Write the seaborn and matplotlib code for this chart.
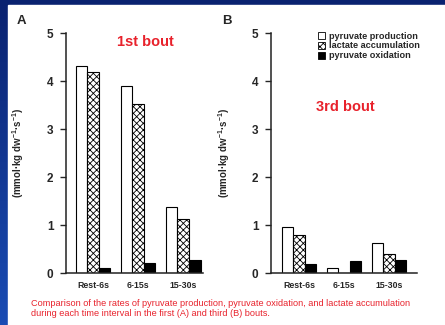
import numpy as np
import pandas as pd
import matplotlib
matplotlib.use("Agg")
import matplotlib.pyplot as plt
import seaborn as sns
from matplotlib.patches import Patch, Rectangle

# Values (mmol/kg dw/s)
intervals = ["Rest-6s", "6-15s", "15-30s"]
measures = ["pyruvate production", "lactate accumulation", "pyruvate oxidation"]
bout1_production = [4.32, 3.90, 1.37]
bout1_lactate = [4.18, 3.52, 1.12]
bout1_oxidation = [0.10, 0.20, 0.28]
bout3_production = [0.95, 0.10, 0.63]
bout3_lactate = [0.80, 0.00, 0.40]
bout3_oxidation = [0.18, 0.25, 0.27]
y_ticks = [0, 1, 2, 3, 4, 5]

sns.set_style("ticks")
plt.rcParams["font.family"] = ["Liberation Sans", "DejaVu Sans"]
plt.rcParams["mathtext.fontset"] = "custom"
plt.rcParams["mathtext.rm"] = "Liberation Sans:bold"
plt.rcParams["mathtext.bf"] = "Liberation Sans:bold"
plt.rcParams["mathtext.default"] = "bf"
plt.rcParams["hatch.linewidth"] = 0.6


def long_table(prod, lact, oxid):
    rows = []
    for vals, m in zip([prod, lact, oxid], measures):
        for iv, v in zip(intervals, vals):
            rows.append({"interval": iv, "measure": m, "rate": v})
    return pd.DataFrame(rows)


df1 = long_table(bout1_production, bout1_lactate, bout1_oxidation)
df3 = long_table(bout3_production, bout3_lactate, bout3_oxidation)

fig = plt.figure(figsize=(4.45, 3.25), dpi=100)

# blue slide background with white panel
bg = fig.add_axes([0, 0, 1, 1], zorder=-10)
grad = np.linspace(0, 1, 100).reshape(-1, 1)
slide = matplotlib.colors.LinearSegmentedColormap.from_list(
    "slide", ["#0a2270", "#1a4cb4"])
bg.imshow(grad, cmap=slide, aspect="auto", extent=[0, 1, 1, 0],
          origin="upper")
bg.add_patch(Rectangle((8 / 445, 5 / 325), 1, 1, color="white"))
bg.set_xlim(0, 1)
bg.set_ylim(1, 0)
bg.axis("off")

styles = [("white", None), ("white", "xxxxx"), ("black", None)]

ax_a = fig.add_axes([66 / 445, 52 / 325, 137 / 445, 240 / 325])
ax_b = fig.add_axes([271 / 445, 52 / 325, 146 / 445, 240 / 325])

for ax, df, xlim, lab_x in [(ax_a, df1, (-0.6, 2.44), -0.29),
                            (ax_b, df3, (-0.62, 2.62), -0.27)]:
    sns.barplot(data=df, x="interval", y="rate", hue="measure",
                order=intervals, hue_order=measures, width=0.77,
                ax=ax, legend=False, errorbar=None)
    for cont, (fc, hatch) in zip(ax.containers, styles):
        for bar in cont:
            bar.set_facecolor(fc)
            bar.set_edgecolor("black")
            bar.set_linewidth(0.8)
            if hatch:
                bar.set_hatch(hatch)
    ax.set_xlim(*xlim)
    ax.set_ylim(0, 5)
    ax.set_yticks(y_ticks)
    ax.set_facecolor("none")
    sns.despine(ax=ax)
    for s in ["left", "bottom"]:
        ax.spines[s].set_linewidth(1.1)
        ax.spines[s].set_color("#222222")
    ax.tick_params(axis="y", length=4, width=1, pad=5, labelsize=8.5)
    ax.tick_params(axis="x", length=0, pad=6, labelsize=6.3)
    for t in ax.get_xticklabels() + ax.get_yticklabels():
        t.set_fontweight("bold")
    ax.set_xlabel("")
    ax.set_ylabel(r"(mmol·kg dw$^{-1}$·s$^{-1}$)", fontsize=7,
                  fontweight="bold")
    ax.yaxis.set_label_coords(lab_x, 0.5)

fig.text(17 / 445, 1 - 21 / 325, "A", fontsize=9.5, fontweight="bold",
         va="center")
fig.text(222 / 445, 1 - 21 / 325, "B", fontsize=9.5, fontweight="bold",
         va="center")
fig.text(145 / 445, 1 - 42 / 325, "1st bout", fontsize=10.5,
         fontweight="bold", color="#e8222c", ha="center", va="center")
fig.text(345 / 445, 1 - 107 / 325, "3rd bout", fontsize=10.5,
         fontweight="bold", color="#e8222c", ha="center", va="center")

handles = [Patch(facecolor=fc, edgecolor="black", hatch=h, linewidth=0.6)
           for fc, h in styles]
leg = fig.legend(handles, measures, loc="upper left",
                 bbox_to_anchor=(313 / 445, 1 - 27 / 325), frameon=False,
                 fontsize=6.6, handlelength=0.8, handleheight=0.8,
                 handletextpad=0.4, labelspacing=0.1, borderpad=0)
for t in leg.get_texts():
    t.set_fontweight("bold")

fig.text(31 / 445, 1 - 304 / 325,
         "Comparison of the rates of pyruvate production, pyruvate oxidation, "
         "and lactate accumulation", fontsize=6.6, color="#e8222c",
         va="center")
fig.text(31 / 445, 1 - 314 / 325,
         "during each time interval in the first (A) and third (B) bouts.",
         fontsize=6.6, color="#e8222c", va="center")

fig.savefig("out.png", dpi=100)
